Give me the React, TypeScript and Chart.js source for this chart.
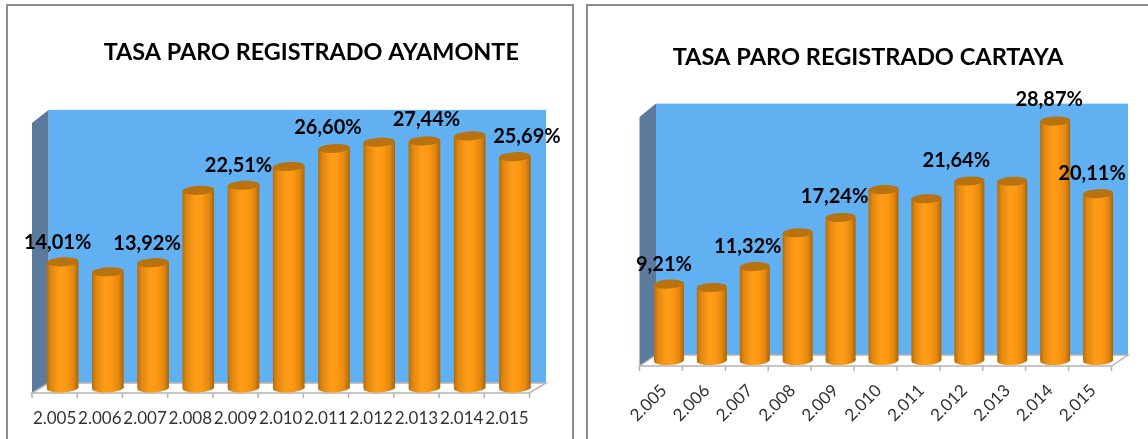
import React, { useEffect, useRef } from "react";
import { Chart, registerables } from "chart.js";

Chart.register(...registerables);

const years = ["2.005", "2.006", "2.007", "2.008", "2.009", "2.010", "2.011", "2.012", "2.013", "2.014", "2.015"];
const ayamonteValues = [14.01, 12.9, 13.92, 21.95, 22.51, 24.6, 26.6, 27.3, 27.44, 28.0, 25.69];
const cartayaValues = [9.21, 8.8, 11.32, 15.4, 17.24, 20.6, 19.5, 21.64, 21.6, 28.87, 20.11];
const ayamonteLabelled = [0, 2, 4, 6, 8, 10];
const cartayaLabelled = [0, 2, 4, 7, 9, 10];
const ayamonteTitle = "TASA PARO REGISTRADO AYAMONTE";
const cartayaTitle = "TASA PARO REGISTRADO CARTAYA";

const FONT = "Lato, Carlito, 'Open Sans', sans-serif";

function gradientFor(ctx: any) {
  const chart = ctx.chart;
  const xScale = chart.scales?.x;
  if (!xScale || ctx.dataIndex === undefined) return "#ff9a14";
  const cx = xScale.getPixelForValue(ctx.dataIndex);
  const half = (xScale.width / years.length) * 0.35;
  if (!isFinite(cx) || !isFinite(half)) return "#ff9a14";
  const g = chart.ctx.createLinearGradient(cx - half, 0, cx + half, 0);
  g.addColorStop(0, "#b46d0c");
  g.addColorStop(0.14, "#e28810");
  g.addColorStop(0.42, "#ff9d18");
  g.addColorStop(0.62, "#fd9813");
  g.addColorStop(0.84, "#e28810");
  g.addColorStop(1, "#a9650b");
  return g;
}

const depthPlugin = {
  id: "depth",
  afterLayout(chart: any, _a: any, o: any) {
    if (chart.titleBlock) {
      chart.titleBlock.left += o.titleShift;
      chart.titleBlock.right += o.titleShift;
    }
  },
  beforeDatasetsDraw(chart: any, _a: any, o: any) {
    const { ctx, chartArea: a, scales } = chart;
    const base = scales.y.getPixelForValue(0);
    const top = scales.y.getPixelForValue(30);
    const { dxL, dxR, dy, wallTop, sideTop } = o;
    const bx = a.left + dxR, ex = a.right + dxR;
    const fx = a.left - dxL, gx = a.right - dxL;
    ctx.save();
    ctx.fillStyle = "#60b0f2";
    ctx.fillRect(bx, top + wallTop, ex - bx, base - dy - (top + wallTop));
    ctx.fillStyle = "#5c7a9e";
    ctx.beginPath();
    ctx.moveTo(fx, top + sideTop);
    ctx.lineTo(bx, top + wallTop);
    ctx.lineTo(bx, base - dy);
    ctx.lineTo(fx, base + dy);
    ctx.closePath();
    ctx.fill();
    ctx.fillStyle = "#ffffff";
    ctx.strokeStyle = "#b4b4b4";
    ctx.lineWidth = 1.5;
    ctx.beginPath();
    ctx.moveTo(fx, base + dy);
    ctx.lineTo(bx, base - dy);
    ctx.lineTo(ex, base - dy);
    ctx.lineTo(gx, base + dy);
    ctx.closePath();
    ctx.fill();
    ctx.stroke();
    for (let i = 0; i <= years.length; i++) {
      const x = fx + ((gx - fx) * i) / years.length;
      ctx.beginPath();
      ctx.moveTo(x, base + dy);
      ctx.lineTo(x, base + dy + 5);
      ctx.stroke();
    }
    ctx.restore();
  },
  afterDatasetsDraw(chart: any, _a: any, o: any) {
    const { ctx } = chart;
    const bars = chart.getDatasetMeta(0).data;
    ctx.save();
    bars.forEach((b: any) => {
      const half = b.width / 2;
      ctx.fillStyle = b.options.backgroundColor;
      ctx.beginPath();
      ctx.ellipse(b.x, b.base, half, o.ry, -0.05, 0, Math.PI * 2);
      ctx.fill();
      ctx.fillStyle = "#b8720f";
      ctx.beginPath();
      ctx.ellipse(b.x, b.y, half, o.ry, -0.05, 0, Math.PI * 2);
      ctx.fill();
    });
    ctx.fillStyle = "#000000";
    ctx.font = "bold 20px " + FONT;
    ctx.textAlign = "center";
    ctx.textBaseline = "middle";
    const values = chart.data.datasets[0].data;
    o.labelled.forEach((idx: number, k: number) => {
      const b = bars[idx];
      const text = values[idx].toFixed(2).replace(".", ",") + "%";
      ctx.fillText(text, b.x + o.labelDx[k], b.y + o.labelDy[k]);
    });
    ctx.restore();
  },
};

function makeConfig(values: number[], title: string, p: any): any {
  return {
    type: "bar",
    data: {
      labels: years,
      datasets: [{ data: values, backgroundColor: gradientFor, borderWidth: 0, barPercentage: 1, categoryPercentage: 0.7 }],
    },
    plugins: [depthPlugin],
    options: {
      animation: false,
      responsive: false,
      layout: { padding: { left: p.left, right: p.right, top: 0, bottom: 0 } },
      scales: {
        x: {
          border: { display: false },
          grid: { display: false },
          ticks: {
            color: "#333333",
            font: { family: FONT, size: p.tickSize },
            minRotation: p.rotation,
            maxRotation: p.rotation,
            padding: p.tickPad,
            labelOffset: p.labelOffset,
            autoSkip: false,
          },
          afterFit: (s: any) => { s.height = p.axisH; },
        },
        y: { display: false, min: 0, max: 30 },
      },
      plugins: {
        legend: { display: false },
        tooltip: { enabled: false },
        title: {
          display: true,
          text: title,
          color: "#000000",
          font: { family: FONT, size: p.titleSize, weight: "bold", lineHeight: 1.2 },
          padding: { top: p.titleTop, bottom: p.titleBottom },
        },
        depth: {
          titleShift: p.titleShift,
          dxL: 8,
          dxR: 8.5,
          dy: p.dy,
          wallTop: -8,
          sideTop: p.dy,
          ry: 4.5,
          labelled: p.labelled,
          labelDx: p.labelDx,
          labelDy: p.labelDy,
        },
      },
    },
  };
}

const leftLayout = {
  left: 40, right: 37.5, axisH: 51, tickSize: 17, tickPad: 12, labelOffset: -8, rotation: 0, dy: 5,
  titleSize: 23.4, titleTop: 38.9, titleBottom: 50.9, titleShift: 22.5,
  labelled: ayamonteLabelled,
  labelDx: [-5, -6, -5, -6, 2, 12],
  labelDy: [-19, -19, -20, -21, -21, -20],
};
const rightLayout = {
  left: 72.5, right: 28.5, axisH: 78.5, tickSize: 17, tickPad: 12, labelOffset: -5, rotation: 45, dy: 5.5,
  titleSize: 23.6, titleTop: 42.8, titleBottom: 40.5, titleShift: -15.5,
  labelled: cartayaLabelled,
  labelDx: [-5, -7, -6, -13, -6, -6],
  labelDy: [-20, -20, -21, -20, -21, -20],
};

function Panel({ left, width, config }: { left: number; width: number; config: any }) {
  const ref = useRef<HTMLCanvasElement>(null);
  useEffect(() => {
    const chart = new Chart(ref.current as HTMLCanvasElement, config);
    return () => chart.destroy();
  }, [config]);
  return (
    <canvas
      ref={ref}
      width={width}
      height={439}
      style={{ position: "absolute", left, top: 0, width, height: 439, display: "block" }}
    />
  );
}

const leftConfig = makeConfig(ayamonteValues, ayamonteTitle, leftLayout);
const rightConfig = makeConfig(cartayaValues, cartayaTitle, rightLayout);

const borderColor = "#8c8c8c";

export default function App() {
  return (
    <div style={{ position: "fixed", left: 0, top: 0, width: 1148, height: 439, overflow: "hidden", background: "#fff" }}>
      <div style={{ position: "absolute", left: 6, top: 4, width: 568, height: 500, boxSizing: "border-box", border: `2px solid ${borderColor}` }} />
      <div style={{ position: "absolute", left: 586, top: 4, width: 600, height: 500, boxSizing: "border-box", border: `2px solid ${borderColor}` }} />
      <Panel left={0} width={575} config={leftConfig} />
      <Panel left={575} width={573} config={rightConfig} />
    </div>
  );
}
